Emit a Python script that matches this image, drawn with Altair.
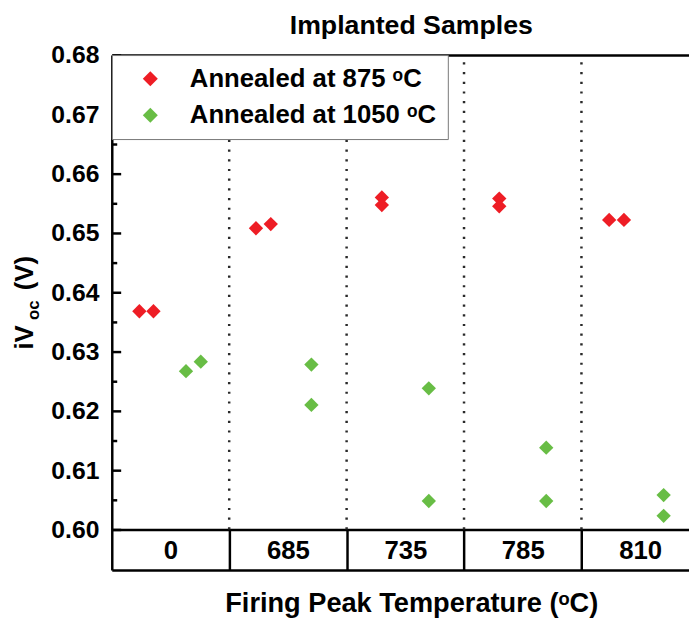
import json
import altair as alt
import pandas as pd

# ---------------- data ----------------
categories = ["0", "685", "735", "785", "810"]
series_names = ["Annealed at 875 ᵒC", "Annealed at 1050 ᵒC"]
chart_title = ["Implanted Samples"]

# iVoc of the two samples per firing temperature
red_values = [[0.6368, 0.6368], [0.6508, 0.6515], [0.6560, 0.6547], [0.6558, 0.6545], [0.6522, 0.6522]]
green_values = [[0.6267, 0.6283], [0.6278, 0.6210], [0.6238, 0.6048], [0.6138, 0.6048], [0.6058, 0.6023]]
# horizontal placement of each sample inside its temperature cell (fraction of cell)
red_jitter = [[0.235, 0.355], [0.228, 0.354], [0.30, 0.30], [0.30, 0.30], [0.236, 0.362]]
green_jitter = [[0.632, 0.758], [0.70, 0.70], [0.70, 0.70], [0.70, 0.70], [0.70, 0.70]]

y_ticks = [0.60, 0.61, 0.62, 0.63, 0.64, 0.65, 0.66, 0.67, 0.68]
y_minor = [0.605, 0.615, 0.625, 0.635, 0.645, 0.655, 0.665, 0.675]

rows = []
for i, cat in enumerate(categories):
    for v, j in zip(red_values[i], red_jitter[i]):
        rows.append({"x": i + j, "y": v, "series": series_names[0], "cat": cat})
    for v, j in zip(green_values[i], green_jitter[i]):
        rows.append({"x": i + j, "y": v, "series": series_names[1], "cat": cat})
points = pd.DataFrame(rows)
separators = pd.DataFrame({"x": [1, 2, 3, 4], "y0": [0.60] * 4, "y1": [0.68] * 4})

# ---------------- layout ----------------
FONT = "Liberation Sans"
W, H = 584, 480
XDOM = [0, 4.916]
xscale = alt.Scale(domain=XDOM, nice=False, zero=False)
yscale = alt.Scale(domain=[0.60, 0.68], nice=False, zero=False)

label_expr = "%s[floor(datum.value)]" % json.dumps(categories)

pts = alt.Chart(points).mark_point(
    shape="diamond", filled=True, size=210, opacity=1, strokeWidth=0
).encode(
    x=alt.X("x:Q", scale=xscale, axis=alt.Axis(
        orient="bottom", values=[0, 1, 2, 3, 4], labels=False, title=None, grid=False,
        tickSize=41, tickWidth=2.5, tickColor="black",
        domainColor="black", domainWidth=2.5)),
    y=alt.Y("y:Q", scale=yscale, axis=alt.Axis(
        orient="left", values=y_ticks, format=".2f", ticks=False, tickSize=0,
        labelPadding=13, labelFontSize=25, labelFont=FONT, labelFontWeight="bold",
        labelColor="black", domainColor="black", domainWidth=2.5, grid=False, title=None)),
    color=alt.Color("series:N", scale=alt.Scale(domain=series_names, range=["#EE1D25", "#68BD45"]),
                    legend=alt.Legend(
                        orient="none", legendX=0, legendY=0, title=None,
                        strokeColor="#777777", fillColor="white", padding=11,
                        symbolOffset=15, labelOffset=27, rowPadding=11,
                        labelFontSize=26, labelFont=FONT, labelFontWeight="bold",
                        labelColor="black", labelLimit=600, symbolSize=230,
                        symbolType="diamond", symbolStrokeWidth=0, symbolOpacity=1)),
)

seps = alt.Chart(separators).mark_rule(
    color="#2a2a2a", strokeWidth=2.5, strokeDash=[2.2, 7.6]
).encode(
    x=alt.X("x:Q", scale=xscale, axis=alt.Axis(
        orient="bottom", offset=41, values=[0.5, 1.5, 2.5, 3.5, 4.5], labelExpr=label_expr,
        ticks=False, tickSize=0, labelPadding=-20, labelBaseline="middle", labelAngle=0,
        labelFontSize=26, labelFont=FONT, labelFontWeight="bold", labelColor="black",
        domainColor="black", domainWidth=2.5, grid=False,
        title="Firing Peak Temperature (ᵒC)", titleFont=FONT, titleFontSize=27.5,
        titleFontWeight="bold", titleColor="black", titleX=303, titleY=42,
        titleBaseline="alphabetic", titleAnchor="middle")),
    y=alt.Y("y0:Q", scale=yscale, axis=alt.Axis(
        orient="right", offset=-W, values=y_ticks, labels=False, domain=False,
        tickSize=9, tickWidth=2.5, tickColor="black", grid=False, title=None)),
    y2="y1:Q",
)

frame = alt.Chart(points).mark_point(opacity=0).encode(
    x=alt.X("x:Q", scale=xscale, axis=alt.Axis(
        orient="top", labels=False, ticks=False, tickSize=0, title=None, grid=False,
        domainColor="black", domainWidth=2.5)),
    y=alt.Y("y:Q", scale=yscale, axis=alt.Axis(
        orient="right", offset=-W, values=y_minor, labels=False, domain=False,
        tickSize=5, tickWidth=2.5, tickColor="black", grid=False, title=None)),
)

title_mark = alt.Chart(pd.DataFrame({"t": chart_title})).mark_text(
    align="center", baseline="alphabetic", fontSize=27, font=FONT,
    fontWeight="bold", color="black"
).encode(x=alt.value(303), y=alt.value(-21), text="t:N")

ytitle_main = alt.Chart(pd.DataFrame({"t": ["iV"]})).mark_text(
    angle=270, align="left", baseline="alphabetic", fontSize=26, font=FONT,
    fontWeight="bold", color="black"
).encode(x=alt.value(-80), y=alt.value(298), text="t:N")
ytitle_sub = alt.Chart(pd.DataFrame({"t": ["oc"]})).mark_text(
    angle=270, align="left", baseline="alphabetic", fontSize=17, font=FONT,
    fontWeight="bold", color="black"
).encode(x=alt.value(-74), y=alt.value(268), text="t:N")
ytitle_unit = alt.Chart(pd.DataFrame({"t": ["(V)"]})).mark_text(
    angle=270, align="left", baseline="alphabetic", fontSize=26, font=FONT,
    fontWeight="bold", color="black"
).encode(x=alt.value(-80), y=alt.value(238), text="t:N")

chart = alt.layer(seps, frame, pts, title_mark, ytitle_main, ytitle_sub, ytitle_unit).resolve_axis(
    x="independent", y="independent"
).properties(
    width=W, height=H,
    autosize=alt.AutoSizeParams(type="none"),
    padding={"left": 105, "top": 44, "right": 0, "bottom": 90},
).configure_view(stroke=None).configure(background="white")

chart.save("out.html", embed_options={"renderer": "svg", "actions": False})
